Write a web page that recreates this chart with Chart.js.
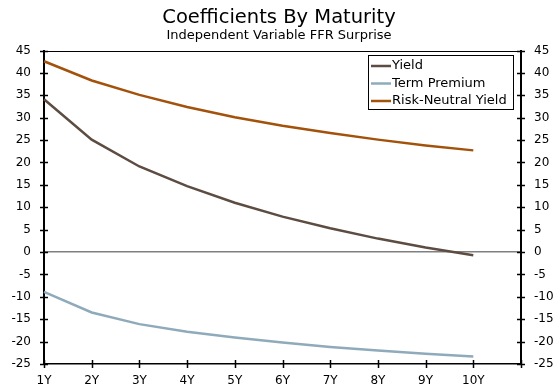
<!DOCTYPE html>
<html>
<head>
<meta charset="utf-8">
<script src="https://cdn.jsdelivr.net/npm/chart.js@4.4.0/dist/chart.umd.min.js"></script>
<style>
  html, body { margin: 0; padding: 0; background: #fff; }
  #wrap { width: 558px; height: 390px; }
</style>
</head>
<body>
<div id="wrap"><canvas id="chart"></canvas></div>
<script>
// Maturities (last slot is an empty tick at the right edge)
const maturities = ["1Y", "2Y", "3Y", "4Y", "5Y", "6Y", "7Y", "8Y", "9Y", "10Y", ""];

// Coefficients
const yieldCoef = [34.1, 25.1, 19.1, 14.7, 11.0, 7.9, 5.3, 3.0, 1.0, -0.7];
const termPremium = [-8.9, -13.5, -16.1, -17.8, -19.1, -20.2, -21.2, -22.0, -22.7, -23.3];
const riskNeutral = [42.6, 38.3, 35.1, 32.4, 30.1, 28.2, 26.6, 25.1, 23.8, 22.7];

const seriesNames = ["Yield", "Term Premium", "Risk-Neutral Yield"];
const seriesColors = ["#5c4c41", "#8faabb", "#a3520c"];

const yMin = -25, yMax = 45, yStep = 5;
const fontFamily = "'DejaVu Sans', Verdana, sans-serif";

// draws the crossing tick marks and the top line of the frame
const axisMarks = {
  id: "axisMarks",
  afterDraw(chart) {
    const ctx = chart.ctx;
    const area = chart.chartArea;
    ctx.save();
    ctx.strokeStyle = "#000";
    ctx.lineWidth = 1;
    ctx.beginPath();
    ctx.moveTo(area.left, Math.round(area.top) + 0.5);
    ctx.lineTo(area.right, Math.round(area.top) + 0.5);
    ctx.stroke();

    ctx.lineWidth = 1.5;
    ["y", "y2"].forEach((id) => {
      const s = chart.scales[id];
      const x = id === "y" ? area.left : area.right;
      s.ticks.forEach((t, i) => {
        const py = Math.round(s.getPixelForTick(i)) + 0.5;
        ctx.beginPath();
        ctx.moveTo(x - 4, py);
        ctx.lineTo(x + 4, py);
        ctx.stroke();
      });
    });
    const xs = chart.scales.x;
    xs.ticks.forEach((t, i) => {
      const px = Math.round(xs.getPixelForTick(i)) + 0.5;
      ctx.beginPath();
      ctx.moveTo(px, area.bottom - 4);
      ctx.lineTo(px, area.bottom + 4);
      ctx.stroke();
    });
    ctx.restore();
  }
};

// boxed legend in the top right corner
const boxLegend = {
  id: "boxLegend",
  afterDraw(chart) {
    const ctx = chart.ctx;
    const left = 368, top = 55, w = 145, h = 54;
    ctx.save();
    ctx.fillStyle = "#fff";
    ctx.fillRect(left, top, w, h);
    ctx.strokeStyle = "#000";
    ctx.lineWidth = 1;
    ctx.strokeRect(left + 0.5, top + 0.5, w, h);
    ctx.font = "13px " + fontFamily;
    ctx.textBaseline = "middle";
    chart.data.datasets.forEach((ds, i) => {
      const yy = top + 11 + i * 17.5;
      ctx.strokeStyle = ds.borderColor;
      ctx.lineWidth = 2.5;
      ctx.beginPath();
      ctx.moveTo(left + 3, yy);
      ctx.lineTo(left + 23, yy);
      ctx.stroke();
      ctx.fillStyle = "#000";
      ctx.fillText(ds.label, left + 24, yy);
    });
    ctx.restore();
  }
};

const datasets = [yieldCoef, termPremium, riskNeutral].map((vals, i) => ({
  label: seriesNames[i],
  data: vals,
  borderColor: seriesColors[i],
  backgroundColor: seriesColors[i],
  borderWidth: 2.5,
  pointRadius: 0,
  tension: 0,
  yAxisID: "y"
}));

new Chart(document.getElementById("chart"), {
  type: "line",
  data: { labels: maturities, datasets: datasets },
  plugins: [axisMarks, boxLegend],
  options: {
    responsive: true,
    maintainAspectRatio: false,
    animation: false,
    layout: { padding: 0 },
    plugins: {
      legend: { display: false },
      tooltip: { enabled: false },
      title: {
        display: true,
        text: "Coefficients By Maturity",
        color: "#000",
        font: { family: fontFamily, size: 19.5, weight: "normal", lineHeight: 1.1 },
        padding: { top: 7, bottom: 0 }
      },
      subtitle: {
        display: true,
        text: "Independent Variable FFR Surprise",
        color: "#000",
        font: { family: fontFamily, size: 13, lineHeight: 1.1 },
        padding: { top: 0, bottom: 7.75 }
      }
    },
    scales: {
      x: {
        type: "category",
        offset: false,
        grid: { display: false, drawTicks: false },
        border: { color: "#000", width: 1.5 },
        ticks: {
          color: "#000",
          font: { family: fontFamily, size: 12 },
          padding: 10,
          maxRotation: 0,
          autoSkip: false
        },
        afterFit(scale) { scale.height = 26; }
      },
      y: {
        position: "left",
        min: yMin,
        max: yMax,
        grid: {
          drawTicks: false,
          color: (c) => (c.tick && c.tick.value === 0 ? "#808080" : "rgba(0,0,0,0)"),
          lineWidth: 1.5
        },
        border: { color: "#000", width: 2 },
        ticks: {
          stepSize: yStep,
          color: "#000",
          font: { family: fontFamily, size: 12 },
          padding: 13
        },
        afterFit(scale) { scale.width = 44; }
      },
      y2: {
        position: "right",
        min: yMin,
        max: yMax,
        grid: { display: false, drawTicks: false },
        border: { color: "#000", width: 2 },
        ticks: {
          stepSize: yStep,
          color: "#000",
          font: { family: fontFamily, size: 12 },
          padding: 13
        },
        afterFit(scale) { scale.width = 37; }
      }
    }
  }
});
</script>
</body>
</html>
